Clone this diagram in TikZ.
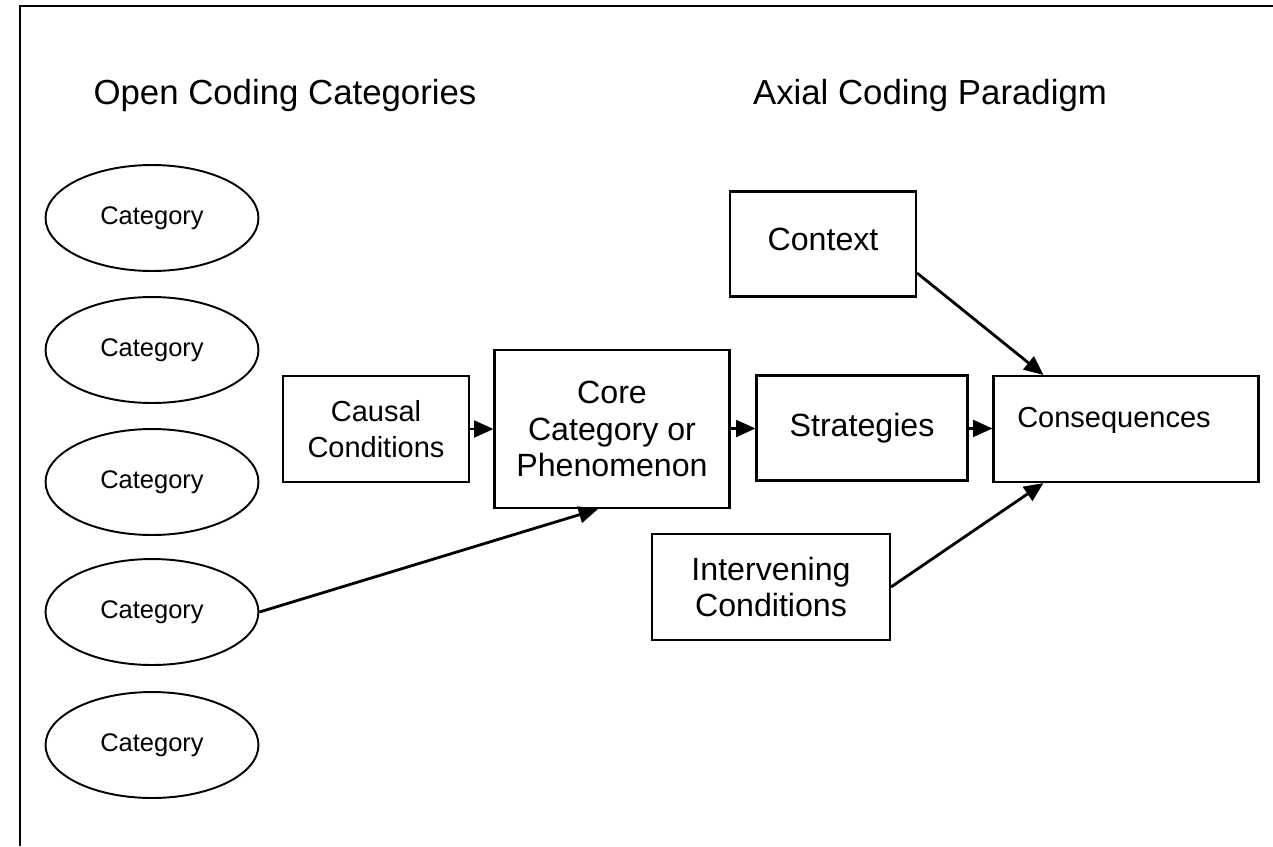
\documentclass[tikz,border=0pt]{standalone}
\usepackage{fontspec}
\setmainfont{Liberation Sans}
\usetikzlibrary{arrows.meta,shapes.geometric}
\begin{document}
\begin{tikzpicture}[
        x=0.02cm, y=-0.02cm,
        every node/.style={black, align=center},
        cat/.style={draw, ellipse, line width=1.1pt, minimum width=4.26cm, minimum height=2.12cm,
            font=\fontsize{14.5}{17}\selectfont},
        box/.style={draw, line width=1.2pt, font=\fontsize{18.3}{21}\selectfont},
        small/.style={font=\fontsize{16.5}{20.4}\selectfont},
        title/.style={font=\fontsize{19.8}{24}\selectfont},
        link/.style={line width=1.6pt, -{Triangle[length=11pt,width=9.5pt]}}
    ]
    \useasboundingbox (0,0) rectangle (1273,846);
    \draw [line width=1pt] (20,846) -- (20,6) -- (1273,6);

    \node[title] (opentitle) at (285,95) {Open Coding Categories};
    \node[title] (axialtitle) at (930,95) {Axial Coding Paradigm};

    % open coding categories
    \foreach \y [count=\i] in {218,350,482,612,745}
        \node[cat] (cat\i) at (152,\y) {Category};

    % axial coding paradigm
    \node[box, small, minimum width=3.72cm, minimum height=2.12cm] (causal) at (376,429) {Causal\\Conditions};
    \node[box, minimum width=4.7cm, minimum height=3.16cm] (core) at (612,429) {Core\\Category or\\Phenomenon};
    \node[box, minimum width=4.22cm, minimum height=2.1cm] (strat) at (862,428) {Strategies};
    \node[box, minimum width=5.3cm, minimum height=2.12cm] (cons) at (1126,429) {};
    \node[small] (constext) at (1114,420) {Consequences};
    \node[box, minimum width=3.72cm, minimum height=2.1cm] (ctx) at (823,244) {\raisebox{0.3em}{Context}};
    \node[box, minimum width=4.76cm, minimum height=2.12cm] (intv) at (771,587) {Intervening\\Conditions};

    \draw [link] (causal) -- (core);
    \draw [link] (core) -- (strat);
    \draw [link] (strat) -- (cons);
    \draw [link] ([yshift=-0.58cm]ctx.east) -- ([xshift=1.02cm]cons.north west);
    \draw [link] (intv.east) -- ([xshift=1.02cm]cons.south west);
    \draw [link] (cat4.east) -- ([xshift=-0.28cm]core.south);
\end{tikzpicture}
\end{document}
